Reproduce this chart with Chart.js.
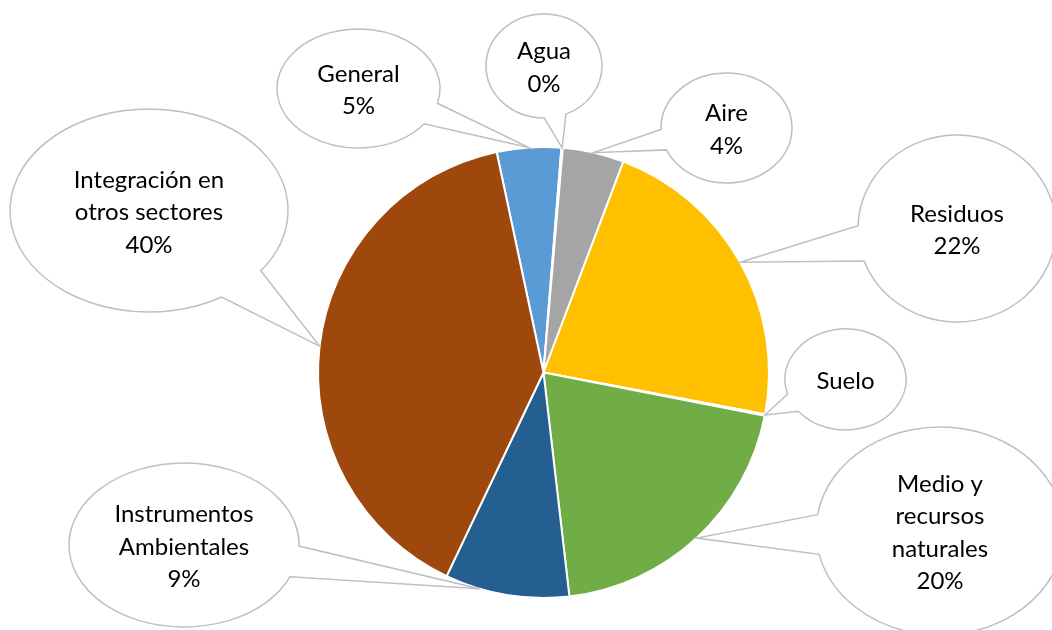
<!DOCTYPE html>
<html lang="es">
<head>
    <meta charset="UTF-8">
    <script src="https://cdn.jsdelivr.net/npm/chart.js"></script>
    <style>
        html, body { margin: 0; padding: 0; background: #ffffff; }
        #wrap { width: 1052px; height: 630px; }
    </style>
    <title>Distribución por área</title>
</head>
<body>

<div id="wrap">
    <canvas id="pieChart"></canvas>
</div>

<script>
    // Categorías en el orden de las porciones (sentido horario)
    const categories = ['General', 'Agua', 'Aire', 'Residuos', 'Suelo',
        'Medio y recursos naturales', 'Instrumentos Ambientales', 'Integración en otros sectores'];

    // Peso de cada categoría (%)
    const shares = [4.6, 0.1, 4.4, 22.2, 0.1, 20.1, 8.9, 39.6];

    // Texto de cada globo, línea por línea (el % se añade después)
    const labelLines = [
        ['General'], ['Agua'], ['Aire'], ['Residuos'], ['Suelo'],
        ['Medio y', 'recursos', 'naturales'],
        ['Instrumentos', 'Ambientales'],
        ['Integración en', 'otros sectores']
    ];
    const showPct = [true, true, true, true, false, true, true, true];

    const colors = ['#5B9BD5', '#ED7D31', '#A5A5A5', '#FFC000', '#4472C4', '#70AD47', '#255E91', '#9E480E'];

    // Globos de texto (elipses) - posición y tamaño
    const bubbles = [
        { cx: 358.5, cy: 88.5,  rx: 81.5, ry: 59.5 },
        { cx: 544,   cy: 66,    rx: 58,   ry: 52 },
        { cx: 726.5, cy: 128,   rx: 65.5, ry: 55 },
        { cx: 957,   cy: 228.5, rx: 99,   ry: 93.5 },
        { cx: 845.5, cy: 379.5, rx: 60.5, ry: 50.5 },
        { cx: 940,   cy: 531,   rx: 124,  ry: 104 },
        { cx: 184,   cy: 545,   rx: 115,  ry: 82, tip: 0.72 },
        { cx: 149,   cy: 210.5, rx: 139,  ry: 101.5 }
    ];

    const total = shares.reduce((s, v) => s + v, 0);

    const calloutPlugin = {
        id: 'callouts',
        afterDatasetsDraw(chart) {
            const ctx = chart.ctx;
            const arcs = chart.getDatasetMeta(0).data;
            const tail = 11 * Math.PI / 180;

            arcs.forEach((arc, i) => {
                const b = bubbles[i];
                const p = arc.getProps(['x', 'y', 'startAngle', 'endAngle', 'outerRadius'], true);
                const f = b.tip !== undefined ? b.tip : 0.5;
                const a = p.startAngle + (p.endAngle - p.startAngle) * f;
                const tx = p.x + Math.cos(a) * p.outerRadius;
                const ty = p.y + Math.sin(a) * p.outerRadius;
                const th = Math.atan2((ty - b.cy) / b.ry, (tx - b.cx) / b.rx);

                ctx.save();
                ctx.beginPath();
                ctx.ellipse(b.cx, b.cy, b.rx, b.ry, 0, th + tail, th - tail + 2 * Math.PI);
                ctx.lineTo(tx, ty);
                ctx.closePath();
                ctx.fillStyle = '#ffffff';
                ctx.fill();
                ctx.strokeStyle = '#BFBFBF';
                ctx.lineWidth = 1.5;
                ctx.stroke();

                const lines = labelLines[i].slice();
                if (showPct[i]) {
                    lines.push(Math.round(shares[i] / total * 100) + '%');
                }
                const lh = 32.5;
                ctx.fillStyle = '#000000';
                ctx.font = '24px Lato';
                ctx.textAlign = 'center';
                ctx.textBaseline = 'middle';
                const y0 = b.cy + 2 - (lines.length - 1) * lh / 2;
                lines.forEach((t, k) => ctx.fillText(t, b.cx, y0 + k * lh));
                ctx.restore();
            });
        }
    };

    const ctx = document.getElementById('pieChart').getContext('2d');
    const chart = new Chart(ctx, {
        type: 'pie',
        data: {
            labels: categories,
            datasets: [{
                data: shares,
                backgroundColor: colors,
                borderColor: '#ffffff',
                borderWidth: 2
            }]
        },
        options: {
            responsive: true,
            maintainAspectRatio: false,
            animation: false,
            rotation: -12,
            layout: {
                padding: { left: 317, top: 146, right: 282, bottom: 31 }
            },
            plugins: {
                legend: { display: false },
                tooltip: { enabled: false }
            }
        },
        plugins: [calloutPlugin]
    });
</script>

</body>
</html>
